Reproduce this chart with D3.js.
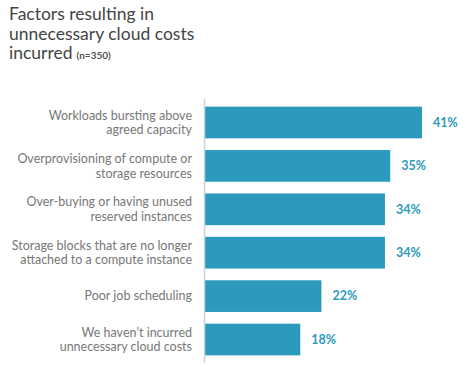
<!DOCTYPE html>
<html>
<head>
<meta charset="utf-8">
<script src="https://cdn.jsdelivr.net/npm/d3@7"></script>
<style>
  body { margin: 0; background: #fff; }
  svg { font-family: Lato, "Open Sans", sans-serif; }
</style>
</head>
<body>
<svg id="chart"></svg>
<script>
// chart data
var categories = [
  ['Workloads bursting above', 'agreed capacity'],
  ['Overprovisioning of compute or', 'storage resources'],
  ['Over-buying or having unused', 'reserved instances'],
  ['Storage blocks that are no longer', 'attached to a compute instance'],
  ['Poor job scheduling'],
  ["We haven\u2019t incurred", 'unnecessary cloud costs']
];
var values = [41, 35, 34, 34, 22, 18];
var titleLines = ['Factors resulting in', 'unnecessary cloud costs', 'incurred'];
var sampleNote = '(n=350)';

var width = 467, height = 367;
var barColor = '#2b9abd';

var svg = d3.select('#chart')
  .attr('width', width)
  .attr('height', height);

// title
var title = svg.append('text')
  .attr('x', 9)
  .attr('y', 20)
  .attr('fill', '#444')
  .style('font-size', '17.5px');
titleLines.forEach(function(t, i){
  title.append('tspan')
    .attr('x', 9)
    .attr('dy', i == 0 ? 0 : 19.5)
    .text(t);
});
title.append('tspan')
  .attr('dx', 4)
  .style('font-size', '10px')
  .style('font-weight', 'bold')
  .attr('fill', '#555')
  .text(sampleNote);

var idx = d3.range(values.length);

var y = d3.scaleBand()
  .domain(idx)
  .range([101, 361])
  .paddingInner(0.27)
  .paddingOuter(0.13);

var x = d3.scaleLinear()
  .domain([0, 41])
  .range([205, 422]);

// bars
svg.selectAll('rect.bar')
  .data(idx)
  .enter().append('rect')
  .attr('class', 'bar')
  .attr('x', x(0))
  .attr('y', function(i){ return y(i); })
  .attr('width', function(i){ return x(values[i]) - x(0); })
  .attr('height', y.bandwidth())
  .attr('fill', barColor);

// axis line
svg.append('line')
  .attr('x1', x(0) - 0.5).attr('x2', x(0) - 0.5)
  .attr('y1', 99).attr('y2', 363)
  .attr('stroke', '#c5d5dc')
  .attr('stroke-width', 1.5);

// value labels
svg.selectAll('text.val')
  .data(idx)
  .enter().append('text')
  .attr('class', 'val')
  .attr('x', function(i){ return x(values[i]) + 11; })
  .attr('y', function(i){ return y(i) + y.bandwidth() / 2; })
  .attr('dy', '0.35em')
  .attr('fill', barColor)
  .style('font-size', '12.5px')
  .style('font-weight', 'bold')
  .text(function(i){ return values[i] + '%'; });

// category labels
var cat = svg.selectAll('text.cat')
  .data(idx)
  .enter().append('text')
  .attr('class', 'cat')
  .attr('text-anchor', 'end')
  .attr('fill', '#777')
  .style('font-size', '12.5px')
  .attr('y', function(i){
    var n = categories[i].length;
    return y(i) + y.bandwidth() / 2 - (n - 1) * 7.25;
  });
cat.each(function(i){
  var t = d3.select(this);
  categories[i].forEach(function(line, j){
    t.append('tspan')
      .attr('x', 192)
      .attr('dy', j == 0 ? '0.35em' : 14.5)
      .text(line);
  });
});
</script>
</body>
</html>
